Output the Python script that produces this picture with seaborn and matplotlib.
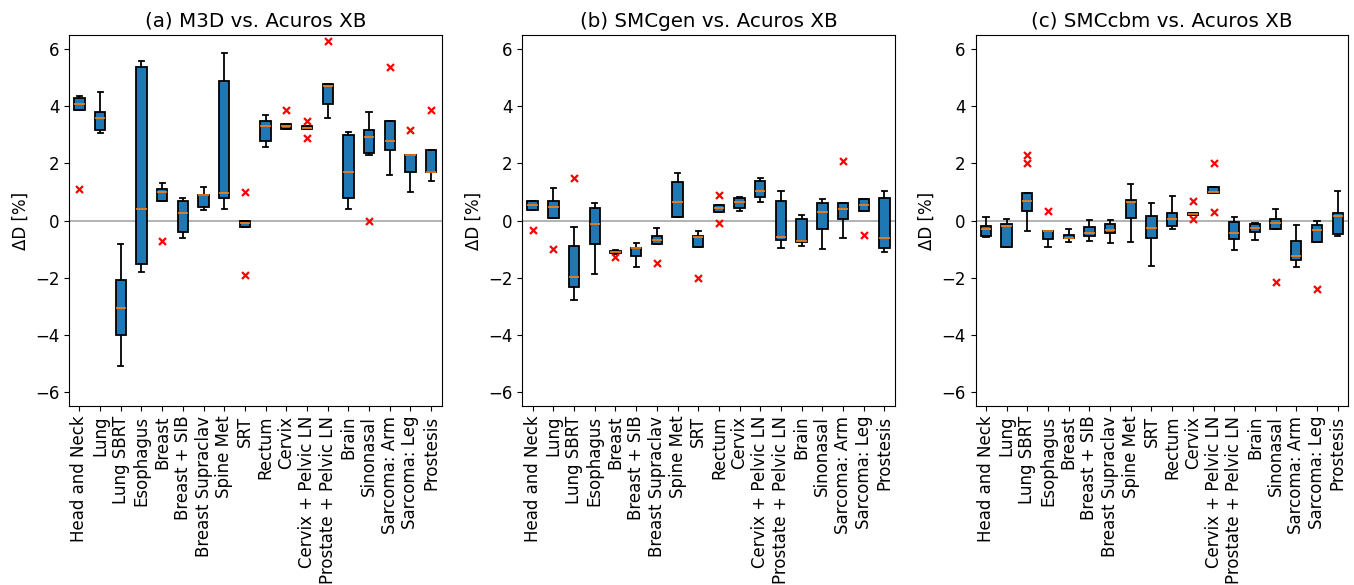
import numpy as np
import pandas as pd
import matplotlib
matplotlib.use("Agg")
import matplotlib.pyplot as plt
import seaborn as sns

plt.rcParams['font.family'] = ['DejaVu Sans']
plt.rcParams['font.size'] = 12

categories = ["Head and Neck", "Lung", "Lung SBRT", "Esophagus", "Breast", "Breast + SIB",
              "Breast Supraclav", "Spine Met", "SRT", "Rectum", "Cervix", "Cervix + Pelvic LN",
              "Prostate + Pelvic LN", "Brain", "Sinonasal", "Sarcoma: Arm", "Sarcoma: Leg", "Prostesis"]

titles = ["(a) M3D vs. Acuros XB", "(b) SMCgen vs. Acuros XB", "(c) SMCcbm vs. Acuros XB"]

# ---- (a) M3D vs. Acuros XB ----
a_lo  = [3.88, 3.08, -5.11, -1.81, 0.70, -0.61, 0.37, 0.39, -0.21, 2.58, 3.20, 3.20, 3.59, 0.39, 2.29, 1.59, 0.99, 1.39]
a_q1  = [3.88, 3.18, -4.00, -1.52, 0.70, -0.41, 0.49, 0.78, -0.21, 2.78, 3.20, 3.20, 4.08, 0.78, 2.37, 2.48, 1.70, 1.70]
a_med = [4.08, 3.59, -3.05, 0.39, 0.99, 0.28, 0.90, 0.98, -0.09, 3.30, 3.31, 3.24, 4.70, 1.70, 2.94, 2.80, 2.29, 1.70]
a_q3  = [4.30, 3.80, -2.08, 5.38, 1.10, 0.70, 0.91, 4.89, 0.00, 3.50, 3.40, 3.31, 4.80, 2.99, 3.19, 3.50, 2.30, 2.49]
a_hi  = [4.37, 4.50, -0.81, 5.59, 1.30, 0.80, 1.19, 5.88, 0.00, 3.70, 3.40, 3.31, 4.80, 3.09, 3.79, 3.50, 2.30, 2.49]
a_flier_cat = ["Head and Neck", "Breast", "SRT", "SRT", "Cervix", "Cervix + Pelvic LN", "Cervix + Pelvic LN",
               "Prostate + Pelvic LN", "Sinonasal", "Sarcoma: Arm", "Sarcoma: Leg", "Prostesis"]
a_flier_val = [1.09, -0.70, 0.99, -1.92, 3.89, 3.50, 2.89, 6.29, 0.00, 5.39, 3.18, 3.89]

# ---- (b) SMCgen vs. Acuros XB ----
b_lo  = [0.36, 0.08, -2.79, -1.87, -1.17, -1.62, -0.83, 0.11, -0.93, 0.29, 0.35, 0.64, -0.97, -0.90, -1.00, -0.62, 0.34, -1.11]
b_q1  = [0.37, 0.08, -2.34, -0.83, -1.14, -1.24, -0.83, 0.11, -0.93, 0.29, 0.44, 0.83, -0.68, -0.76, -0.28, 0.04, 0.34, -0.97]
b_med = [0.53, 0.49, -1.99, -0.12, -1.12, -0.97, -0.69, 0.65, -0.58, 0.44, 0.65, 1.04, -0.56, -0.70, 0.29, 0.42, 0.55, -0.62]
b_q3  = [0.67, 0.67, -0.89, 0.43, -1.06, -0.95, -0.53, 1.36, -0.53, 0.53, 0.79, 1.38, 0.69, 0.07, 0.61, 0.61, 0.75, 0.78]
b_hi  = [0.68, 1.14, -0.23, 0.61, -1.02, -0.78, -0.26, 1.66, -0.35, 0.53, 0.84, 1.50, 1.02, 0.18, 0.75, 0.61, 0.77, 1.04]
b_flier_cat = ["Head and Neck", "Lung", "Lung SBRT", "Breast", "Breast Supraclav", "SRT", "Rectum", "Rectum",
               "Sarcoma: Arm", "Sarcoma: Leg"]
b_flier_val = [-0.33, -0.98, 1.48, -1.27, -1.48, -2.03, 0.88, -0.08, 2.07, -0.50]

# ---- (c) SMCcbm vs. Acuros XB ----
c_lo  = [-0.56, -0.94, -0.37, -0.94, -0.76, -0.72, -0.80, -0.76, -1.58, -0.28, 0.20, 0.98, -1.03, -0.69, -0.28, -1.64, -0.75, -0.54]
c_q1  = [-0.54, -0.91, 0.32, -0.63, -0.62, -0.53, -0.43, 0.08, -0.62, -0.18, 0.20, 0.98, -0.63, -0.41, -0.28, -1.38, -0.75, -0.47]
c_med = [-0.30, -0.19, 0.69, -0.37, -0.61, -0.44, -0.33, 0.64, -0.26, 0.06, 0.23, 1.00, -0.42, -0.27, -0.07, -1.24, -0.34, 0.16]
c_q3  = [-0.19, -0.11, 0.96, -0.35, -0.49, -0.21, -0.12, 0.72, 0.16, 0.25, 0.28, 1.19, -0.06, -0.11, 0.06, -0.71, -0.14, 0.26]
c_hi  = [0.11, 0.05, 0.98, -0.35, -0.30, 0.02, 0.02, 1.29, 0.60, 0.85, 0.28, 1.19, 0.11, -0.09, 0.42, -0.16, -0.01, 1.04]
c_flier_cat = ["Lung SBRT", "Lung SBRT", "Esophagus", "Cervix", "Cervix", "Cervix + Pelvic LN",
               "Cervix + Pelvic LN", "Sinonasal", "Sarcoma: Leg"]
c_flier_val = [2.30, 2.00, 0.32, 0.70, 0.05, 2.00, 0.30, -2.16, -2.40]

panels = [
    (a_lo, a_q1, a_med, a_q3, a_hi, a_flier_cat, a_flier_val),
    (b_lo, b_q1, b_med, b_q3, b_hi, b_flier_cat, b_flier_val),
    (c_lo, c_q1, c_med, c_q3, c_hi, c_flier_cat, c_flier_val),
]

fig, axes = plt.subplots(1, 3, figsize=(13.54, 5.85), dpi=100)
fig.subplots_adjust(left=0.051, right=0.9956, top=0.940, bottom=0.306, wspace=0.217)

for ax, title, (lo, q1, med, q3, hi, fcat, fval) in zip(axes, titles, panels):
    rows = []
    for i, cat in enumerate(categories):
        for v in (lo[i], q1[i], med[i], q3[i], hi[i]):
            rows.append((cat, v))
    df = pd.DataFrame(rows, columns=["cat", "val"])
    ax.axhline(0, color="gray", linewidth=1.2, alpha=0.7, zorder=0)
    sns.boxplot(data=df, x="cat", y="val", order=categories, ax=ax, whis=(0, 100),
                width=0.5, color="#1f77b4", saturation=1, linecolor="black", linewidth=1.3,
                showfliers=False, medianprops=dict(color="#ff7f0e", linewidth=1.2))
    fdf = pd.DataFrame({"cat": fcat, "val": fval})
    sns.stripplot(data=fdf, x="cat", y="val", order=categories, ax=ax, jitter=False,
                  marker="x", color="red", size=5, linewidth=1.6)
    ax.set_xlim(-0.5, len(categories) - 0.5)
    ax.set_ylim(-6.5, 6.5)
    ax.set_yticks([-6, -4, -2, 0, 2, 4, 6])
    ax.set_title(title, fontsize=14.3)
    ax.set_xlabel("")
    ax.set_ylabel("ΔD [%]")
    ax.tick_params(axis="x", labelrotation=90)

fig.savefig("out.png", dpi=100)
